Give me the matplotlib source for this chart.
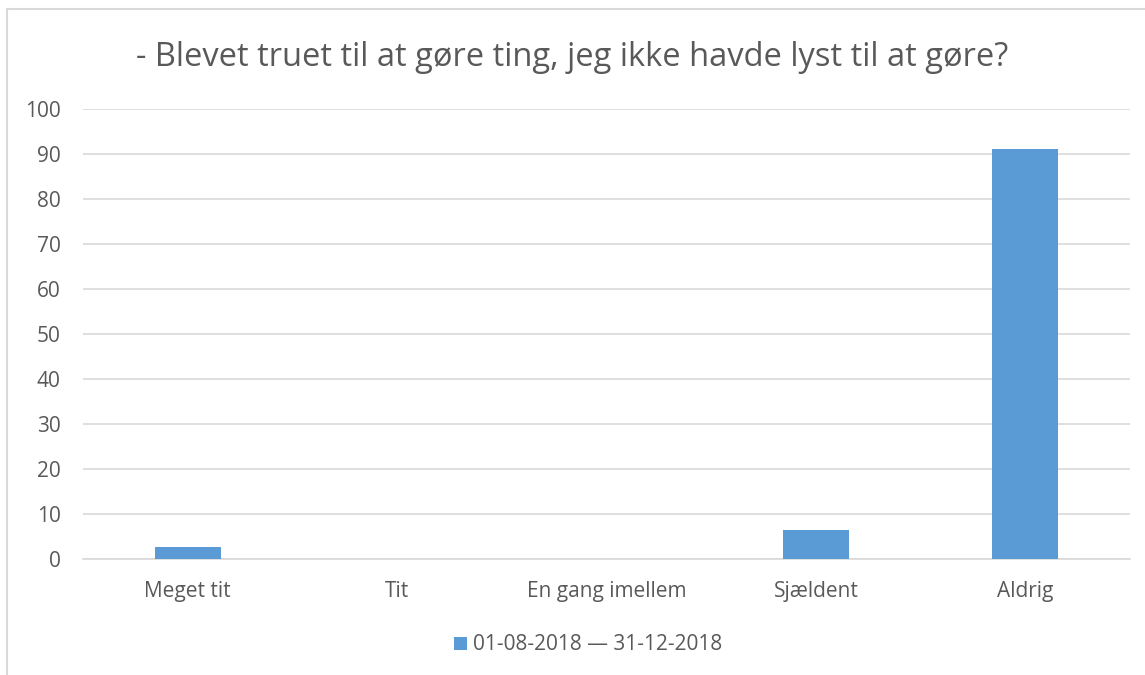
import matplotlib
matplotlib.use("Agg")
import matplotlib.pyplot as plt
from matplotlib.patches import Rectangle

plt.rcParams["font.family"] = ["Open Sans", "DejaVu Sans"]

categories = ["Meget tit", "Tit", "En gang imellem", "Sjældent", "Aldrig"]
values = [2.6, 0, 0, 6.4, 91.1]
series_label = "01-08-2018 \u2014 31-12-2018"
title = "- Blevet truet til at gøre ting, jeg ikke havde lyst til at gøre?"

BAR = "#5B9BD5"
TXT = "#595959"
GRID = "#D9D9D9"

W, H = 1145, 675
fig = plt.figure(figsize=(W / 100, H / 100), dpi=100)

# chart frame
fig.patches.append(Rectangle((7 / W, -0.05), 1.2, 1 - 9 / H + 0.05,
                             transform=fig.transFigure, fill=False,
                             edgecolor="#D9D9D9", lw=1.5))

ax = fig.add_axes([83 / W, (H - 559) / H, (1130 - 83) / W, 450 / H])
x = range(len(categories))
ax.bar(x, values, width=0.315, color=BAR, label=series_label, zorder=3)
ax.set_xlim(-0.5, len(categories) - 0.5)
ax.set_ylim(0, 100)
ax.set_yticks(range(0, 101, 10))
ax.set_xticks(list(x))
ax.set_xticklabels(categories)
ax.tick_params(axis="both", length=0, colors=TXT, labelsize=15)
ax.tick_params(axis="x", pad=16)
ax.tick_params(axis="y", pad=16)
ax.grid(axis="y", color=GRID, lw=1.2, zorder=0)
for s in ["top", "right", "left"]:
    ax.spines[s].set_visible(False)
ax.spines["bottom"].set_color(GRID)
ax.spines["bottom"].set_linewidth(1.2)

fig.text(0.5, 1 - 57 / H, title, ha="center", va="center",
         fontsize=23.5, color=TXT)

fig.legend(loc="center", bbox_to_anchor=(588 / W, 1 - 645 / H),
           frameon=False, fontsize=15, labelcolor=TXT,
           handlelength=0.6, handleheight=0.6, handletextpad=0.3)

fig.savefig("out.png", dpi=100)
